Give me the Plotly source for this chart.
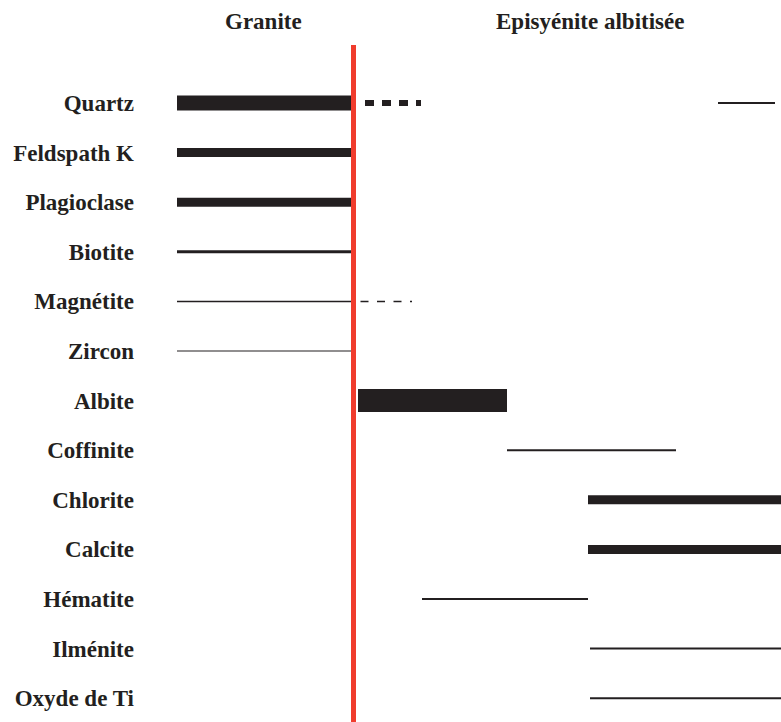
import plotly.graph_objects as go

# ---- data ----
minerals = ["Quartz", "Feldspath K", "Plagioclase", "Biotite", "Magnétite", "Zircon",
            "Albite", "Coffinite", "Chlorite", "Calcite", "Hématite", "Ilménite", "Oxyde de Ti"]

# occurrence segments on a relative time scale (granite -> episyenite)
seg_mineral = ["Quartz", "Quartz", "Quartz", "Feldspath K", "Plagioclase", "Biotite",
               "Magnétite", "Magnétite", "Zircon", "Albite", "Coffinite", "Chlorite",
               "Calcite", "Hématite", "Ilménite", "Oxyde de Ti"]
seg_start = [177, 365, 718, 177, 177, 177, 177, 344, 177, 358, 507, 588, 588, 422, 590, 590]
seg_end = [351, 421, 775, 351, 351, 351, 344, 412, 351, 507, 676, 781, 781, 588, 781, 781]
seg_abundance = ["major", "major?", "trace", "abundant", "abundant", "common",
                 "minor", "minor?", "rare", "dominant", "trace", "abundant",
                 "abundant", "trace", "trace", "trace"]

stage_labels = ["Granite", "Episyénite albitisée"]
stage_centers = [263, 590]
boundary = 353.5

# ---- styles ----
width_of = {"dominant": 23, "major": 15, "major?": 6, "abundant": 9, "common": 3,
            "minor": 1.5, "minor?": 1.5, "trace": 2, "rare": 1.2}
dash_of = {"major?": "9px,8px", "minor?": "8px,8.5px"}
ink = "#231f20"
red = "#f03c2d"
font_family = "Liberation Serif, Times New Roman, serif"

W, H = 781, 722
row_px0, row_step = 103, 49.6
y_top = -row_px0 / row_step
y_bot = y_top + H / row_step

idx = {m: i for i, m in enumerate(minerals)}

fig = go.Figure()
for m, s, e, a in zip(seg_mineral, seg_start, seg_end, seg_abundance):
    fig.add_trace(go.Scatter(
        x=[s, e], y=[idx[m], idx[m]], mode="lines",
        line=dict(color=ink, width=width_of[a], dash=dash_of.get(a, "solid")),
        hoverinfo="skip", showlegend=False))

# stage boundary
fig.add_trace(go.Scatter(
    x=[boundary, boundary], y=[y_top + 45 / row_step, y_bot], mode="lines",
    line=dict(color=red, width=5), hoverinfo="skip", showlegend=False))

for lab, c in zip(stage_labels, stage_centers):
    fig.add_annotation(x=c, xref="x", y=1 - 21 / H, yref="paper", text=lab,
                       showarrow=False, yanchor="middle", xanchor="center",
                       font=dict(family=font_family, size=23, color=ink, weight="bold"))

L = 135
fig.update_layout(
    width=W, height=H, margin=dict(l=L, r=0, t=0, b=0),
    paper_bgcolor="white", plot_bgcolor="white",
    xaxis=dict(range=[L, W], visible=False, fixedrange=True),
    yaxis=dict(range=[y_bot, y_top], tickvals=list(range(len(minerals))), ticktext=minerals,
               showgrid=False, zeroline=False, showline=False, ticks="", fixedrange=True,
               tickfont=dict(family=font_family, size=23, color=ink, weight="bold")),
)

fig.write_html("out.html", config={"displayModeBar": False},
               post_script="document.body.style.margin='0';")
